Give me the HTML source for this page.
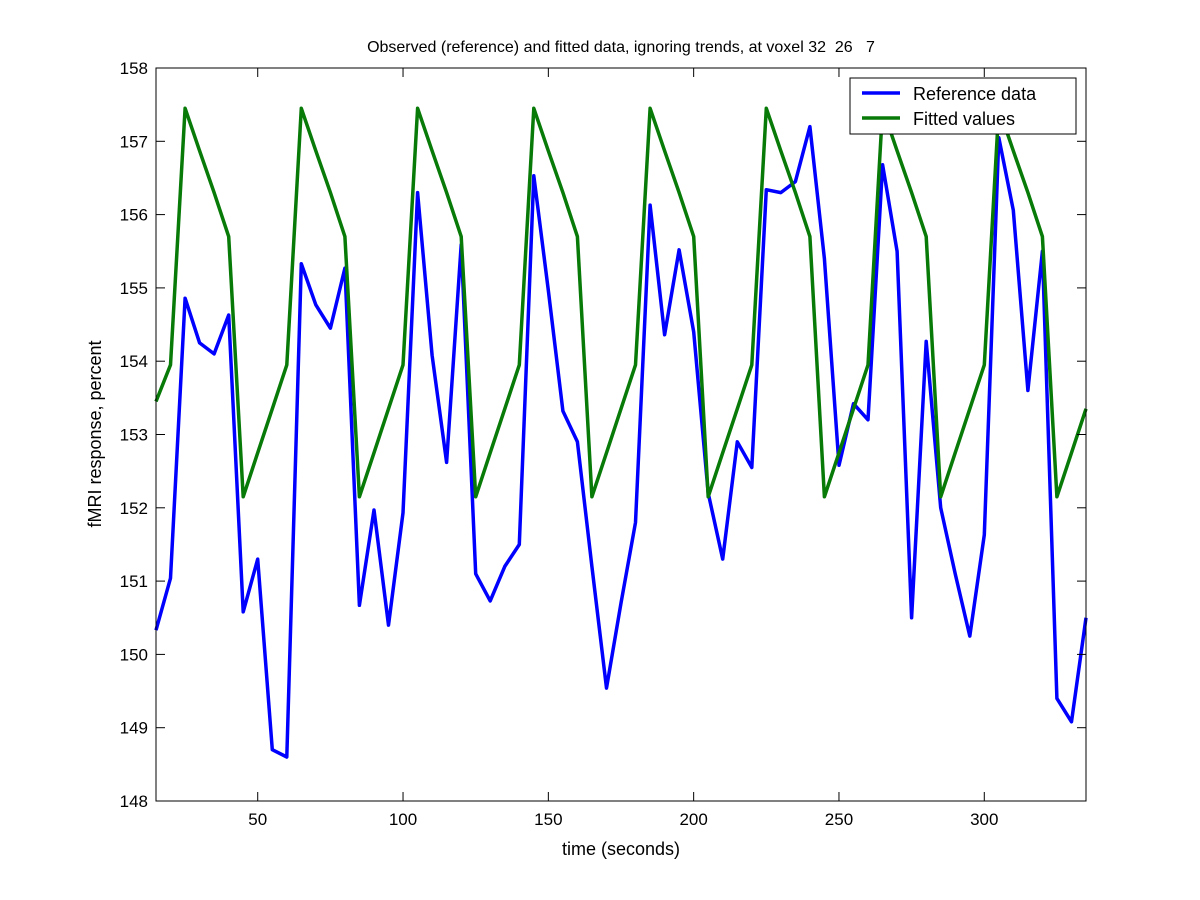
<!DOCTYPE html>
<html><head><meta charset="utf-8"><style>
html,body{margin:0;padding:0;background:#fff;width:1200px;height:900px;overflow:hidden}
svg{font-family:"Liberation Sans",Arial,sans-serif}
</style></head><body>
<svg id="s" width="1200" height="900" xmlns="http://www.w3.org/2000/svg">
<rect x="0" y="0" width="1200" height="900" fill="#fff"/>
<g id="plot"></g>
<rect x="156" y="68" width="930" height="733" fill="none" stroke="#000" stroke-width="1"/>
<g id="ticks" stroke="#000" stroke-width="1"></g>
<g id="labels" font-size="17" fill="#000"></g>
<text x="621" y="52" font-size="16" text-anchor="middle" style="white-space:pre">Observed (reference) and fitted data, ignoring trends, at voxel 32  26   7</text>
<text x="621" y="855" font-size="18" text-anchor="middle">time (seconds)</text>
<text transform="translate(101,434) rotate(-90)" font-size="18" text-anchor="middle">fMRI response, percent</text>
<rect x="850" y="78" width="226" height="56" fill="#fff" stroke="#000" stroke-width="1"/>
<line x1="862" y1="93" x2="900" y2="93" stroke="#0000ff" stroke-width="3.5"/>
<line x1="862" y1="118" x2="900" y2="118" stroke="#087a08" stroke-width="3.5"/>
<text x="913" y="100" font-size="18">Reference data</text>
<text x="913" y="125" font-size="18">Fitted values</text>
</svg>
<script>
var X=function(t){return 156+(t-15)*930/320;};
var Y=function(v){return 68+(158-v)*73.3;};
var blue=[150.33,151.04,154.86,154.25,154.1,154.63,150.58,151.3,148.7,148.6,155.33,154.77,154.45,155.27,150.67,151.97,150.4,151.93,156.3,154.08,152.62,155.59,151.1,150.73,151.2,151.5,156.53,154.97,153.32,152.9,151.2,149.54,150.7,151.8,156.13,154.36,155.52,154.4,152.2,151.3,152.9,152.55,156.34,156.3,156.45,157.2,155.4,152.58,153.42,153.2,156.68,155.5,150.5,154.27,152.0,151.1,150.25,151.63,157.05,156.06,153.6,155.5,149.4,149.08,150.5];
var gmap={25:157.45,30:156.87,35:156.3,0:155.7,5:152.15,10:152.75,15:153.35,20:153.95};
var pb=[],pg=[];
for(var i=0;i<blue.length;i++){var t=15+5*i;pb.push(X(t).toFixed(1)+","+Y(blue[i]).toFixed(1));
var g=(t==15)?153.45:gmap[t%40];pg.push(X(t).toFixed(1)+","+Y(g).toFixed(1));}
var ns="http://www.w3.org/2000/svg";
function el(n,a,p){var e=document.createElementNS(ns,n);for(var k in a)e.setAttribute(k,a[k]);p.appendChild(e);return e;}
var plot=document.getElementById("plot");
el("polyline",{points:pb.join(" "),fill:"none",stroke:"#0000ff","stroke-width":3.5,"stroke-linejoin":"round"},plot);
el("polyline",{points:pg.join(" "),fill:"none",stroke:"#087a08","stroke-width":3.5,"stroke-linejoin":"round"},plot);
var tk=document.getElementById("ticks"),lb=document.getElementById("labels");
[50,100,150,200,250,300].forEach(function(t){var x=X(t);
el("line",{x1:x,y1:801,x2:x,y2:792},tk);el("line",{x1:x,y1:68,x2:x,y2:77},tk);
var e=el("text",{x:x,y:825,"text-anchor":"middle"},lb);e.textContent=t;});
for(var v=148;v<=158;v++){var y=Y(v);
el("line",{x1:156,y1:y,x2:165,y2:y},tk);el("line",{x1:1086,y1:y,x2:1077,y2:y},tk);
var e=el("text",{x:148,y:y+6,"text-anchor":"end"},lb);e.textContent=v;}
</script>
</body></html>
